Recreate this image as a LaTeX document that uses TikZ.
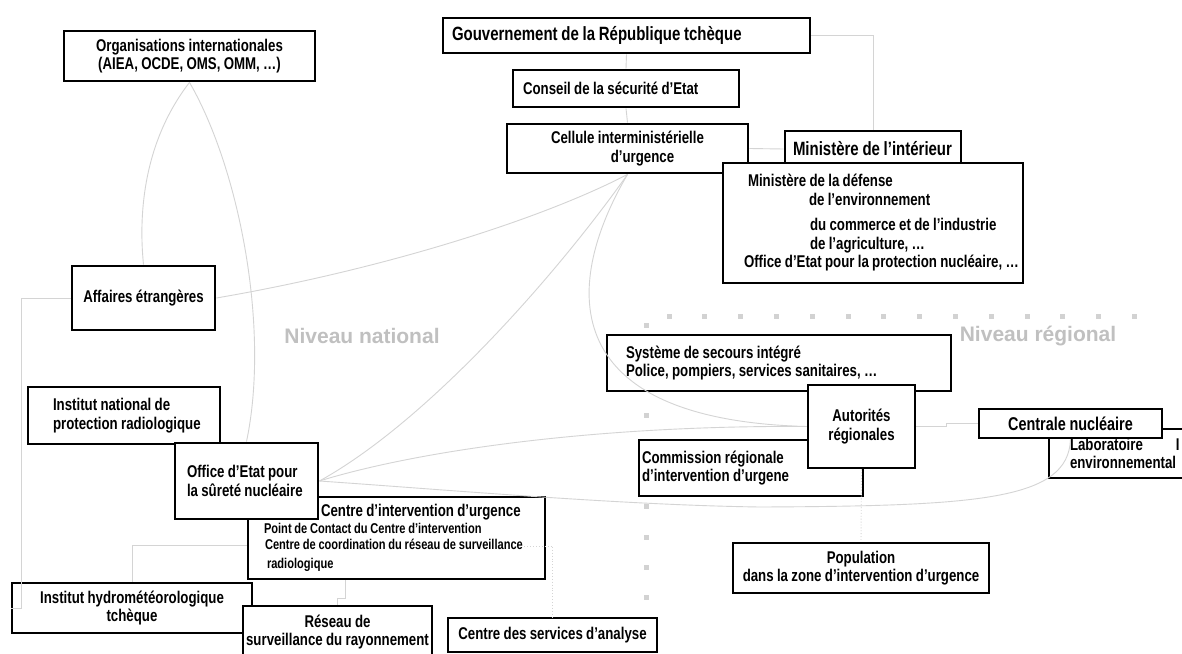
\documentclass[tikz,border=0pt]{standalone}
\usepackage{fontspec}
\newfontfamily\boxfam{Liberation Sans}[FakeStretch=0.78, WordSpace=0.9]
\newfontfamily\levelfam{Liberation Sans}
\definecolor{linkgrey}{RGB}{212,212,212}
\definecolor{levelgrey}{RGB}{192,192,192}
\definecolor{dotgrey}{RGB}{210,210,210}
\newcommand\boxfont{\boxfam\bfseries\fontsize{17}{18.5}\selectfont}
\newcommand\bigboxfont{\boxfam\bfseries\fontsize{19.2}{21}\selectfont}
\newcommand\smallboxfont{\fontsize{14.2}{16.5}\selectfont}
\newcommand\levelfont{\levelfam\bfseries\fontsize{21}{25}\selectfont}
\newcommand\pushin[1]{\hspace*{#1pt}}

\begin{document}
\begin{tikzpicture}[x=1pt, y=-1pt,
  orgbox/.style={draw, line width=2.8pt, fill=white, inner sep=0pt, font=\boxfont},
  leftbox/.style 2 args={minimum width=#1, text width=#1, minimum height=#2, align=flush left},
  midbox/.style 2 args={minimum width=#1, minimum height=#2, align=center},
  liaison/.style={linkgrey, line width=0.9pt},
  liaisondots/.style={liaison, dotted},
  level/.style={text=levelgrey, font=\levelfont}]
\path[use as bounding box, fill=white] (0,0) rectangle (1182,653);
\foreach \i in {0,...,13} \fill[dotgrey] ({669+35.8*\i-2.5},313.5) rectangle ++(5,5);
\foreach \j in {0,...,9} \fill[dotgrey] (643.5,{322.5+30.3*\j}) rectangle ++(5,5);
\node[level] (natl) at (362,336) {Niveau national};
\node[level] (regl) at (1038,336) {Niveau régional};

\node[orgbox, midbox={251pt}{50pt}] (orgs) at (189.5,56) {Organisations internationales\\(AIEA, OCDE, OMS, OMM, …)};
\node[orgbox, midbox={143pt}{64pt}] (affaires) at (143.5,298) {Affaires étrangères};
\node[orgbox, leftbox={367pt}{35pt}, font=\bigboxfont] (gouv) at (626.5,35.5) {\pushin{9}Gouvernement de la République tchèque};
\node[orgbox, leftbox={226pt}{37pt}] (conseil) at (626,88.5) {\pushin{10}Conseil de la sécurité d’Etat};
\node[orgbox, midbox={241pt}{49pt}] (cellule) at (627.5,148.5) {Cellule interministérielle\\\pushin{30}d’urgence};
\node[orgbox, leftbox={176pt}{36pt}, font=\bigboxfont] (mint) at (873,149) {\pushin{8}Ministère de l’intérieur};
\node[orgbox, leftbox={300pt}{120pt}] (minis) at (873,223) {\pushin{25}Ministère de la défense\\\pushin{86}de l’environnement\\[7pt]\pushin{87}du commerce et de l’industrie\\\pushin{87}de l’agriculture, …\\\mbox{\pushin{21}Office d’Etat pour la protection nucléaire, …}};
\node[orgbox, leftbox={192pt}{57pt}] (inst) at (124,415.5) {\pushin{25}Institut national de\\\pushin{25}protection radiologique};
\node[orgbox, leftbox={297pt}{82pt}] (cic) at (396.5,538) {\pushin{73}Centre d’intervention d’urgence\\\smallboxfont\mbox{\pushin{16}Point de Contact du Centre d’intervention}\\\mbox{\pushin{17}Centre de coordination du réseau de surveillance}\\\pushin{19}radiologique};
\node[orgbox, leftbox={143pt}{76pt}] (office) at (246.5,481) {\mbox{\pushin{12}Office d’Etat pour}\\\mbox{\pushin{12}la sûreté nucléaire}};
\node[orgbox, midbox={240pt}{50pt}] (hydro) at (132,608) {Institut hydrométéorologique\\tchèque};
\node[orgbox, midbox={189pt}{52pt}] (reseau) at (337.5,632) {Réseau de\\surveillance du rayonnement};
\node[orgbox, midbox={209pt}{34pt}] (csa) at (552.5,635) {Centre des services d’analyse};
\node[orgbox, leftbox={344pt}{56pt}] (sys) at (779,363) {\pushin{19}Système de secours intégré\\\pushin{19}Police, pompiers, services sanitaires, …};
\node[orgbox, leftbox={224pt}{56pt}] (comm) at (751,468) {\pushin{3}Commission régionale\\\pushin{3}d’intervention d’urgene};
\node[orgbox, midbox={107pt}{83pt}] (autor) at (861.5,426.5) {Autorités\\régionales};
\node[orgbox, midbox={256pt}{50pt}] (popu) at (861,568) {Population\\dans la zone d’intervention d’urgence};
\node[orgbox, leftbox={181pt}{49pt}] (labo) at (1139.5,453.5) {\pushin{21}Laboratoire\pushin{33}I\\\pushin{21}environnemental};
\node[orgbox, midbox={183pt}{29pt}, font=\boxfam\bfseries\fontsize{18.5}{20}\selectfont] (centrale) at (1070.5,423.5) {Centrale nucléaire};

\draw[liaison] (orgs.south) .. controls (145,140) and (138,210) .. (affaires.north);
\draw[liaison] (orgs.south) .. controls (240,170) and (270,330) .. (office.north);
\draw[liaison] (affaires.east) .. controls (380,270) and (540,220) .. (cellule.south);
\draw[liaison] (affaires.west) -- ++(-49,0) |- (hydro.west);
\draw[liaison] (gouv.south) -- (conseil.north);
\draw[liaison] (conseil.south) -- (cellule.north);
\draw[liaison] (gouv.east) -| (mint.north);
\draw[liaison] (cellule.east) -- (mint.west);
\draw[liaison] (cellule.south) .. controls (560,270) and (430,420) .. (office.east);
\draw[liaison] (cellule.south) .. controls (560,290) and (560,420) .. (autor.west);
\draw[liaison] (office.east) .. controls (420,450) and (600,425) .. (autor.west);
\draw[liaison] (office.east) .. controls (450,490) and (620,505) .. (760,507) .. controls (980,506) and (1068,500) .. (centrale.south);
\draw[liaison] ([yshift=-7pt]cic.west) -| (hydro.north);
\draw[liaison] ([xshift=-51.5pt]cic.south) -- ++(0,18) -| (reseau.north);
\draw[liaisondots] ([xshift=-22pt,yshift=-8pt]cic.east) -| (csa.north);
\draw[liaison] (autor.east) -- ++(30,0) |- (centrale.west);
\draw[liaisondots] (autor.south) -- (popu.north);
\end{tikzpicture}
\end{document}
